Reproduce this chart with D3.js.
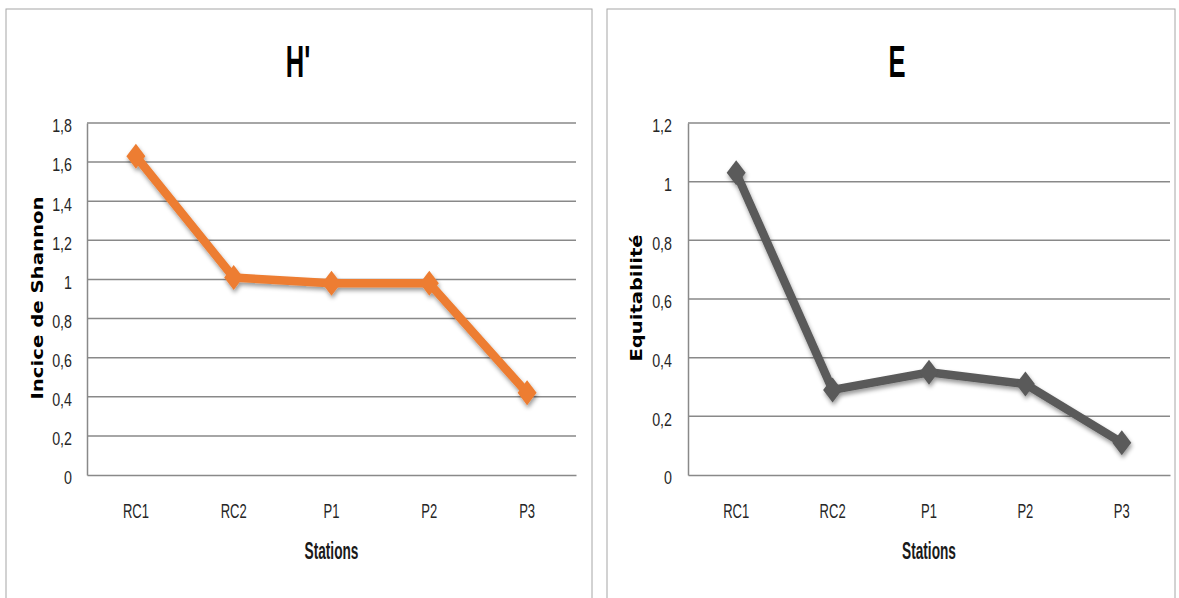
<!DOCTYPE html>
<html><head><meta charset="utf-8">
<script src="https://cdn.jsdelivr.net/npm/d3@7"></script>
<style>
html,body{margin:0;padding:0;background:#fff;}
svg{display:block;}
</style></head>
<body>
<svg id="c" width="1179" height="598"></svg>
<script>
const stations = ["RC1","RC2","P1","P2","P3"];
const shannon = [1.63, 1.01, 0.98, 0.98, 0.42];
const equitability = [1.03, 0.29, 0.35, 0.31, 0.11];
const shannonTicks = [0,0.2,0.4,0.6,0.8,1,1.2,1.4,1.6,1.8];
const equitTicks = [0,0.2,0.4,0.6,0.8,1,1.2];

const svg = d3.select("#c");
const defs = svg.append("defs");
const f = defs.append("filter").attr("id","sh").attr("x","-50%").attr("y","-50%").attr("width","200%").attr("height","200%");
f.append("feDropShadow").attr("dx",1).attr("dy",3).attr("stdDeviation",2.2).attr("flood-color","#000").attr("flood-opacity",0.4);

const FONT = "'Liberation Sans',Arial,sans-serif";
const fmt = v => String(+v.toFixed(1)).replace(".", ",");
const diamond = (hw,hh) => `M0,${-hh}L${hw},0L0,${hh}L${-hw},0Z`;

function panel(cfg){
  const g = svg.append("g");
  g.append("rect").attr("x",cfg.bx).attr("y",cfg.by).attr("width",cfg.bw).attr("height",cfg.bh)
    .attr("fill","#fff").attr("stroke","#a6a6a6").attr("stroke-width",1);
  const x = d3.scaleBand().domain(stations).range([cfg.x0,cfg.x1]);
  const y = d3.scaleLinear().domain([0,cfg.max]).range([475,123]);
  // gridlines
  g.append("g").selectAll("line").data(cfg.ticks.filter(t=>t>0)).join("line")
    .attr("x1",cfg.x0).attr("x2",cfg.x1).attr("y1",d=>y(d)).attr("y2",d=>y(d))
    .attr("stroke","#898989").attr("stroke-width",1.5);
  // y axis
  const ya = g.append("g").attr("transform",`translate(${cfg.x0},0)`)
    .call(d3.axisLeft(y).tickValues(cfg.ticks).tickFormat(fmt).tickSize(0));
  ya.select(".domain").attr("stroke","#898989").attr("stroke-width",1.5);
  ya.selectAll("text").attr("x",0).attr("dy","0.36em").attr("transform",`translate(${-cfg.pad},2) scale(0.75,1)`)
    .attr("font-family",FONT).attr("font-size",19).attr("fill","#262626");
  // x axis
  const xa = g.append("g").attr("transform","translate(0,475)")
    .call(d3.axisBottom(x).tickSize(0));
  xa.select(".domain").attr("stroke","#898989").attr("stroke-width",1.5);
  xa.selectAll("text").attr("y",0).attr("dy",0).attr("transform","translate(0,43) scale(0.62,1)")
    .attr("font-family",FONT).attr("font-size",21).attr("fill","#262626");
  // title
  g.append("text").attr("transform",`translate(${cfg.tx},77) scale(0.58,1)`).attr("text-anchor","middle")
    .attr("font-family",FONT).attr("font-weight","bold").attr("font-size",44).attr("fill","#000").text(cfg.title);
  // x title
  g.append("text").attr("transform",`translate(${(cfg.x0+cfg.x1)/2},559) scale(0.57,1)`).attr("text-anchor","middle")
    .attr("font-family",FONT).attr("font-weight","bold").attr("font-size",24).attr("fill","#1a1a1a").text("Stations");
  // y title
  g.append("text").attr("transform",`translate(${cfg.ytx},${cfg.yty}) rotate(-90)`).attr("text-anchor","middle")
    .attr("font-family","'DejaVu Sans',sans-serif").attr("font-weight","bold").attr("font-size",16)
    .attr("textLength",cfg.ylen).attr("lengthAdjust","spacingAndGlyphs")
    .attr("fill","#000").text(cfg.ytitle);
  // line
  const line = d3.line().x((d,i)=>x(stations[i])+x.bandwidth()/2).y(d=>y(d));
  const lg = g.append("g").attr("filter","url(#sh)");
  lg.append("path").datum(cfg.values).attr("d",line).attr("fill","none")
    .attr("stroke",cfg.color).attr("stroke-width",8.5).attr("stroke-linejoin","round");
  lg.selectAll("path.m").data(cfg.values).join("path").attr("class","m")
    .attr("transform",(d,i)=>`translate(${x(stations[i])+x.bandwidth()/2},${y(d)})`)
    .attr("d",diamond(9.5,12.5)).attr("fill",cfg.color);
}

panel({bx:6,by:9,bw:586,bh:600,x0:87,x1:576,max:1.8,ticks:shannonTicks,values:shannon,pad:15,
  color:"#ed7d31",title:"H'",tx:298,ytitle:"Incice de Shannon",ytx:43,yty:298,ylen:203});
panel({bx:607,by:9,bw:568,bh:600,x0:688,x1:1170,max:1.2,ticks:equitTicks,values:equitability,pad:16,
  color:"#5a5a5a",title:"E",tx:897,ytitle:"Equitabilité",ytx:642,yty:298,ylen:127});
</script>
</body></html>
